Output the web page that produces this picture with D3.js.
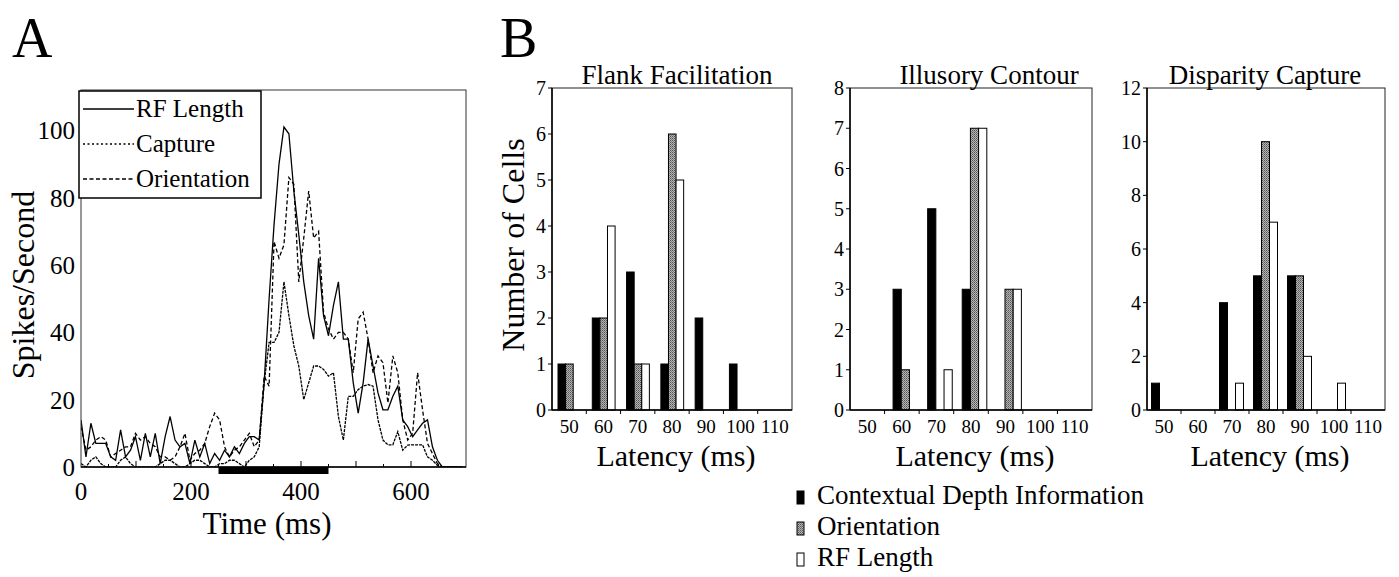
<!DOCTYPE html>
<html>
<head>
<meta charset="utf-8">
<script src="https://cdn.jsdelivr.net/npm/d3@7"></script>
<style>
  body { margin: 0; background: #fff; }
  svg { font-family: "Liberation Serif", "DejaVu Serif", serif; }
</style>
</head>
<body>
<svg id="fig" width="1399" height="577"></svg>
<script>
// ---- panel A data: PSTH, 9 ms bins starting at 0 ms ----
const binMs = 9
const rfLength = [14, 3, 13, 7, 7, 7, 3, 2, 11, 3, 5, 9, 2, 10, 3, 10, 1, 9, 15, 8, 6, 7, 1, 8, 3, 7, 1, 4, 2, 5, 3, 6, 4, 7, 9,
  9, 8, 25, 50, 72, 90, 101, 99, 82, 69, 55, 45, 38, 62, 45, 39, 48, 55, 38, 38, 25, 16, 25, 38, 30, 22, 17, 17, 21, 24, 14, 12, 9, 11, 13, 14, 6, 2, 0,
  0, 0, 0, 0]
const capture = [1, 0, 2, 3, 1, 0, 0, 0, 2, 3, 1, 0, 0, 0, 0, 0, 1, 2, 2, 1, 0, 0, 1, 2, 2, 1, 0, 0, 1, 1, 2, 2, 1, 0, 2,
  3, 6, 25, 37, 37, 40, 55, 45, 36, 30, 20, 25, 30, 30, 29, 27, 28, 15, 8, 21, 21, 23, 24, 24.5, 24, 14, 8, 6.6, 6.6, 10.5, 5, 6.5, 6.6, 6.6, 6.6, 3, 2, 0.5, 0,
  0, 0, 0, 0]
const orientation = [12, 5, 6, 8, 9, 8, 3, 4, 5, 6, 6, 10, 8, 9, 7, 6, 3, 3, 2, 3, 6, 10, 2, 4, 5, 7, 12, 16, 14, 6, 3, 5, 6, 8, 10,
  6, 8, 27, 24, 67, 62, 66, 86, 84, 55, 68, 82, 68, 70, 46, 41, 38, 40, 40, 38, 28, 44, 46, 38, 28, 33, 31, 19, 33, 28, 14, 8, 10, 28, 17, 7, 4, 1, 0,
  0, 0, 0, 0]
const stimulus = [250, 450]
const timeTicks = [0, 200, 400, 600]
const rateTicks = [0, 20, 40, 60, 80, 100]

// ---- panel B data: histograms of latency ----
const latencies = ["50", "60", "70", "80", "90", "100", "110"]
const cellTypes = ["Contextual Depth Information", "Orientation", "RF Length"]
const flankDepth = [1, 2, 3, 1, 2, 1, 0]
const flankOri = [1, 2, 1, 6, 0, 0, 0]
const flankRF = [0, 4, 1, 5, 0, 0, 0]
const illusDepth = [0, 3, 5, 3, 0, 0, 0]
const illusOri = [0, 1, 0, 7, 3, 0, 0]
const illusRF = [0, 0, 1, 7, 3, 0, 0]
const dispDepth = [1, 0, 4, 5, 5, 0, 0]
const dispOri = [0, 0, 0, 10, 5, 0, 0]
const dispRF = [0, 0, 1, 7, 2, 1, 0]

const svg = d3.select("#fig")

// halftone-ish gray fill
const defs = svg.append("defs")
const pat = defs.append("pattern").attr("id", "gray").attr("width", 2).attr("height", 2)
  .attr("patternUnits", "userSpaceOnUse")
pat.append("rect").attr("width", 2).attr("height", 2).attr("fill", "#b4b4b4")
pat.append("rect").attr("width", 1).attr("height", 1).attr("fill", "#555")
pat.append("rect").attr("x", 1).attr("y", 1).attr("width", 1).attr("height", 1).attr("fill", "#777")
const fills = ["#000", "url(#gray)", "#fff"]

// ================= PANEL A =================
svg.append("text").attr("x", 12).attr("y", 57).attr("font-size", 56).text("A")

const xA = d3.scaleLinear().domain([0, 700]).range([81, 466])
const yA = d3.scaleLinear().domain([0, 112]).range([467, 90])

const gA = svg.append("g")
defs.append("clipPath").attr("id", "clipA")
  .append("rect").attr("x", xA(0)).attr("y", yA(112)).attr("width", xA(700) - xA(0)).attr("height", yA(0) - yA(112))

// legend dash vs. curve dash: the dotted curve reads almost solid in the original
const series = [
  {name: "RF Length", values: rfLength, dash: null, legDash: null},
  {name: "Capture", values: capture, dash: "3,1", legDash: "2,2.5"},
  {name: "Orientation", values: orientation, dash: "4,2.5", legDash: "4,2.5"}
]
const line = d3.line().x((d, i) => xA(i * binMs)).y(d => yA(d))

gA.append("g").attr("clip-path", "url(#clipA)")
  .selectAll("path").data(series).join("path")
  .attr("d", d => line(d.values))
  .attr("fill", "none").attr("stroke", "#000").attr("stroke-width", 1.3)
  .attr("stroke-dasharray", d => d.dash)

// frame
gA.append("rect").attr("x", xA(0)).attr("y", yA(112)).attr("width", xA(700) - xA(0)).attr("height", yA(0) - yA(112))
  .attr("fill", "none").attr("stroke", "#333").attr("stroke-width", 1)
gA.append("line").attr("x1", xA(0)).attr("x2", xA(700)).attr("y1", yA(0)).attr("y2", yA(0))
  .attr("stroke", "#000").attr("stroke-width", 1.5)

// inward ticks
gA.selectAll(".mt").data(d3.range(50, 700, 50)).join("line")
  .attr("x1", d => xA(d)).attr("x2", d => xA(d))
  .attr("y1", yA(0)).attr("y2", d => yA(0) - (d % 100 === 0 ? 6 : 3))
  .attr("stroke", "#000").attr("stroke-width", 1)

// stimulus bar
gA.append("rect").attr("x", xA(stimulus[0])).attr("y", yA(0)).attr("width", xA(stimulus[1]) - xA(stimulus[0])).attr("height", 7)
  .attr("fill", "#000")

gA.selectAll(".xl").data(timeTicks).join("text")
  .attr("x", d => xA(d)).attr("y", 500).attr("text-anchor", "middle").attr("font-size", 25).text(d => d)
gA.selectAll(".yl").data(rateTicks).join("text")
  .attr("x", 75).attr("y", d => yA(d) + 9).attr("text-anchor", "end").attr("font-size", 25).text(d => d)

gA.append("text").attr("x", 267).attr("y", 534).attr("text-anchor", "middle").attr("font-size", 31).text("Time (ms)")
gA.append("text").attr("transform", "translate(34,285) rotate(-90)").attr("text-anchor", "middle")
  .attr("font-size", 32).text("Spikes/Second")

// legend
const leg = gA.append("g")
leg.append("rect").attr("x", 79).attr("y", 91).attr("width", 182).attr("height", 107)
  .attr("fill", "#fff").attr("stroke", "#000").attr("stroke-width", 1.5)
series.forEach((s, i) => {
  const by = 117 + i * 35
  leg.append("line").attr("x1", 83).attr("x2", 134).attr("y1", by - 8).attr("y2", by - 8)
    .attr("stroke", "#000").attr("stroke-width", 1.3).attr("stroke-dasharray", s.legDash)
  leg.append("text").attr("x", 136).attr("y", by).attr("font-size", 25).text(s.name)
})

// ================= PANEL B =================
svg.append("text").attr("x", 500).attr("y", 57).attr("font-size", 56).text("B")

const charts = [
  {title: "Flank Facilitation", data: [flankDepth, flankOri, flankRF], max: 7, step: 1,
   left: 552, right: 792, barOff: 6, barW: 7.6, titleX: 677},
  {title: "Illusory Contour", data: [illusDepth, illusOri, illusRF], max: 8, step: 1,
   left: 850, right: 1092, barOff: 8.5, barW: 8.2, titleX: 989},
  {title: "Disparity Capture", data: [dispDepth, dispOri, dispRF], max: 12, step: 2,
   left: 1147, right: 1385, barOff: 4.5, barW: 8, titleX: 1265}
]
const plotTop = 88, plotBottom = 410

charts.forEach((c, ci) => {
  const g = svg.append("g")
  const x = d3.scaleBand().domain(latencies).range([c.left, c.right])
  const y = d3.scaleLinear().domain([0, c.max]).range([plotBottom, plotTop])

  c.data.forEach((vals, k) => {
    g.append("g").selectAll("rect").data(vals.map((v, i) => ({v, lat: latencies[i]})).filter(d => d.v > 0))
      .join("rect")
      .attr("x", d => x(d.lat) + c.barOff + k * c.barW)
      .attr("y", d => y(d.v))
      .attr("width", c.barW)
      .attr("height", d => y(0) - y(d.v))
      .attr("fill", fills[k])
      .attr("stroke", "#000").attr("stroke-width", 1)
  })

  // frame
  g.append("rect").attr("x", c.left).attr("y", plotTop).attr("width", c.right - c.left).attr("height", plotBottom - plotTop)
    .attr("fill", "none").attr("stroke", "#222").attr("stroke-width", 1)
  g.append("line").attr("x1", c.left).attr("x2", c.right).attr("y1", plotBottom).attr("y2", plotBottom)
    .attr("stroke", "#000").attr("stroke-width", 1.5)
  g.append("line").attr("x1", c.left).attr("x2", c.left).attr("y1", plotTop).attr("y2", plotBottom)
    .attr("stroke", "#000").attr("stroke-width", 1.5)

  // x ticks at band edges
  g.selectAll(".xt").data(latencies.slice(1)).join("line")
    .attr("x1", d => x(d)).attr("x2", d => x(d)).attr("y1", plotBottom).attr("y2", plotBottom + 4)
    .attr("stroke", "#000")
  g.selectAll(".xl").data(latencies).join("text")
    .attr("x", d => x(d) + x.bandwidth() / 2).attr("y", 433).attr("text-anchor", "middle")
    .attr("font-size", 19).text(d => d)

  const yt = d3.range(0, c.max + 0.001, c.step)
  g.selectAll(".yt").data(yt).join("line")
    .attr("x1", c.left - 4).attr("x2", c.left).attr("y1", d => y(d)).attr("y2", d => y(d))
    .attr("stroke", "#000")
  g.selectAll(".yl").data(yt).join("text")
    .attr("x", c.left - 6).attr("y", d => y(d) + 7).attr("text-anchor", "end")
    .attr("font-size", 20).text(d => d)

  g.append("text").attr("x", c.titleX).attr("y", 84).attr("text-anchor", "middle")
    .attr("font-size", 27).text(c.title)
  g.append("text").attr("x", (c.left + c.right) / 2 + 4).attr("y", 466).attr("text-anchor", "middle")
    .attr("font-size", 30).text("Latency (ms)")
})

svg.append("text").attr("transform", "translate(524,245) rotate(-90)").attr("text-anchor", "middle")
  .attr("font-size", 32).text("Number of Cells")

// legend for panel B
const legB = svg.append("g")
cellTypes.forEach((name, i) => {
  const by = 504 + i * 31
  legB.append("rect").attr("x", 797).attr("y", by - 13).attr("width", 7).attr("height", 13)
    .attr("fill", fills[i]).attr("stroke", "#000").attr("stroke-width", 1)
  legB.append("text").attr("x", 817).attr("y", by).attr("font-size", 27).text(name)
})
</script>
</body>
</html>
